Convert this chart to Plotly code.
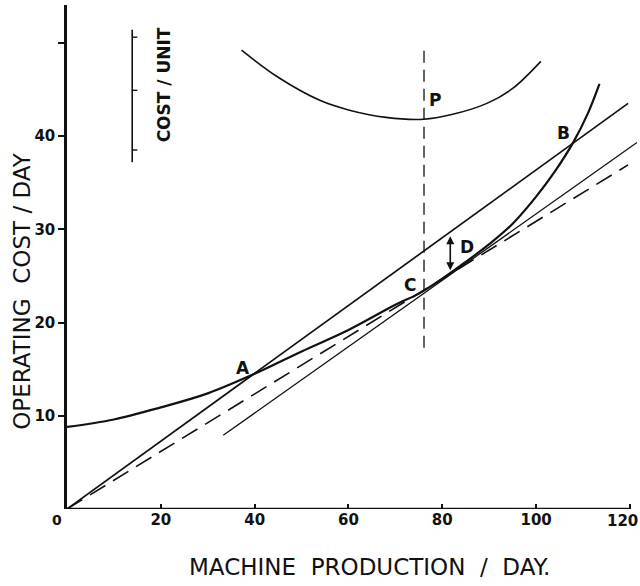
import plotly.graph_objects as go

# Total operating cost per day curve
tc_x = [0, 10, 20, 30, 40, 50, 60, 70, 75, 80, 85, 90, 95, 100, 104, 108, 111, 113.5]
tc_y = [8.8, 9.6, 10.9, 12.4, 14.5, 16.9, 19.2, 21.9, 23.1, 24.7, 26.5, 28.4, 30.6, 33.5, 36.2, 39.4, 42.4, 45.6]

# Cost per unit curve (U-shaped, top)
ac_x = [37.2, 45, 54, 60, 68, 76, 82, 89.5, 95, 101]
ac_y = [49.2, 46.3, 43.8, 42.8, 42.0, 41.8, 42.3, 43.5, 45.1, 48.0]

# Straight line from origin through A and B
oab_x = [0, 119.6]
oab_y = [0, 43.5]

# Dashed ray from origin tangent at C
oc_x = [0, 119.6]
oc_y = [0, 36.9]

# Line parallel to OAB tangent at D
td_x = [33.3, 121.5]
td_y = [7.9, 39.3]

# Vertical dashed line through P and C
vp_x = [76.1, 76.1]
vp_y = [17.3, 49.8]

# Cost/unit scale bar
unit_x = [13.9, 13.9]
unit_y = [37.2, 51.4]
unit_ticks = [50.6, 44.9, 38.5]

# D arrow (between OAB line and tangent line)
d_x = 81.7
d_top, d_bot = 29.4, 25.6

x_ticks = [20, 40, 60, 80, 100, 120]
x_ticklabels = ["20", "40", "60", "80", "100", "120"]
y_ticks = [10, 20, 30, 40, 50]
y_ticklabels = ["10", "20", "30", "40", ""]

labels = [("A", 37.5, 15.1), ("B", 105.8, 40.3), ("C", 73.1, 24.0), ("D", 85.3, 28.1), ("P", 78.5, 43.9)]

BLACK = "#111"
TICKFONT = dict(family="DejaVu Sans", size=15, color=BLACK, weight=600)
fig = go.Figure()

fig.add_trace(go.Scatter(x=tc_x, y=tc_y, mode="lines", line=dict(color=BLACK, width=2.2, shape="spline", smoothing=1.0)))
fig.add_trace(go.Scatter(x=ac_x, y=ac_y, mode="lines", line=dict(color=BLACK, width=1.6, shape="spline", smoothing=1.0)))
fig.add_trace(go.Scatter(x=oab_x, y=oab_y, mode="lines", line=dict(color=BLACK, width=1.7)))
fig.add_trace(go.Scatter(x=oc_x, y=oc_y, mode="lines", line=dict(color=BLACK, width=1.6, dash="18px,9px")))
fig.add_trace(go.Scatter(x=td_x, y=td_y, mode="lines", line=dict(color=BLACK, width=1.3)))
fig.add_trace(go.Scatter(x=vp_x, y=vp_y, mode="lines", line=dict(color=BLACK, width=1.3, dash="12px,7px")))
fig.add_trace(go.Scatter(x=unit_x, y=unit_y, mode="lines", line=dict(color=BLACK, width=1.6)))
for t in unit_ticks:
    fig.add_trace(go.Scatter(x=[unit_x[0], unit_x[0] + 1.1], y=[t, t], mode="lines", line=dict(color=BLACK, width=1.4)))

# x-axis line
fig.add_shape(type="line", xref="x", yref="y", x0=0, x1=120, y0=0, y1=0, line=dict(color=BLACK, width=2.5))

fig.add_annotation(x=d_x, y=d_bot, ax=d_x, ay=d_top, xref="x", yref="y", axref="x", ayref="y",
                   text="", showarrow=True, arrowhead=2, arrowside="end+start", arrowsize=1, arrowwidth=1.6, arrowcolor=BLACK)

for txt, lx, ly in labels:
    fig.add_annotation(x=lx, y=ly, xref="x", yref="y", text="<b>%s</b>" % txt, showarrow=False,
                       font=dict(family="DejaVu Sans", size=17, color=BLACK))

fig.add_annotation(x=0, y=0, xref="x", yref="y", text="<b>0</b>", showarrow=False, xshift=-10, yshift=-11,
                   font=dict(family="DejaVu Sans", size=14, color=BLACK))

# last x tick label, kept inside the page edge
fig.add_annotation(x=x_ticks[-1], y=0, xref="x", yref="y", text=x_ticklabels[-1], showarrow=False,
                   xanchor="right", yanchor="top", xshift=10, yshift=-1, font=TICKFONT)

fig.add_annotation(x=-45 / 570, xref="paper", xanchor="center", y=23.3, yref="y", yanchor="middle",
                   text="OPERATING  COST / DAY", textangle=-90,
                   showarrow=False, font=dict(family="DejaVu Sans", size=23, color=BLACK))
fig.add_annotation(x=64.4, xref="x", xanchor="center", y=-58 / 504, yref="paper", yanchor="middle",
                   text="MACHINE  PRODUCTION  /  DAY.",
                   showarrow=False, font=dict(family="DejaVu Sans", size=23, color=BLACK))
fig.add_annotation(x=20.6, xref="x", xanchor="center", y=45.5, yref="y", yanchor="middle",
                   text="<b>COST / UNIT</b>", textangle=-90,
                   showarrow=False, font=dict(family="DejaVu Sans", size=17, color=BLACK))

fig.update_layout(
    width=640, height=586,
    margin=dict(l=67, r=3, t=5, b=77, autoexpand=False),
    paper_bgcolor="white", plot_bgcolor="white",
    showlegend=False,
    xaxis=dict(range=[0, 121.5], showgrid=False, zeroline=False, showline=False, automargin=False,
               tickvals=x_ticks, ticktext=x_ticklabels[:-1] + [""], ticks="inside", ticklen=5, tickwidth=1.5,
               tickcolor=BLACK, tickfont=TICKFONT),
    yaxis=dict(range=[0, 54.05], showgrid=False, zeroline=False, showline=True, linecolor=BLACK, linewidth=2.5,
               automargin=False,
               tickvals=y_ticks, ticktext=y_ticklabels, ticks="outside", ticklen=6, tickwidth=1.5, tickcolor=BLACK,
               tickfont=TICKFONT),
)

fig.write_html("out.html", config={"displayModeBar": False}, post_script="document.body.style.margin='0';")
